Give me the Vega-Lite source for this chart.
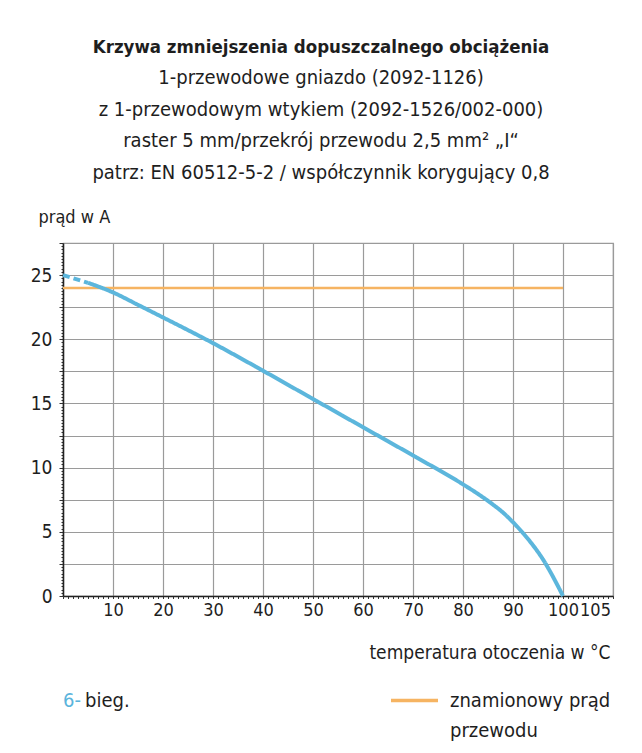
{
  "$schema": "https://vega.github.io/schema/vega-lite/v6.json",
  "width": 550,
  "height": 353,
  "autosize": {"type": "none"},
  "padding": {"left": 63, "top": 243, "right": 29, "bottom": 157},
  "background": "white",
  "config": {
    "font": "DejaVu Sans Condensed, Liberation Sans Narrow, Roboto, sans-serif",
    "view": {"stroke": "#9a9a9a", "strokeWidth": 1.2}
  },
  "title": {
    "text": "Krzywa zmniejszenia dopuszczalnego obciążenia",
    "subtitle": [
      "1-przewodowe gniazdo (2092-1126)",
      "z 1-przewodowym wtykiem (2092-1526/002-000)",
      "raster 5 mm/przekrój przewodu 2,5 mm² „I“",
      "patrz: EN 60512-5-2 / współczynnik korygujący 0,8"
    ],
    "anchor": "middle",
    "frame": "group",
    "dx": -17,
    "fontSize": 18.5,
    "fontWeight": "bold",
    "color": "#1e1e1e",
    "subtitleFontSize": 20,
    "subtitleColor": "#1e1e1e",
    "subtitleLineHeight": 31.7,
    "subtitlePadding": 11,
    "offset": 25
  },
  "datasets": {
    "rated": [
      {"t": 0, "i": 24, "name": "znamionowy prąd przewodu"},
      {"t": 100, "i": 24, "name": "znamionowy prąd przewodu"}
    ],
    "curve": [
      {"t": 0, "i": 25, "part": "d", "name": "6-"},
      {"t": 5, "i": 24.4, "part": "d", "name": "6-"},
      {"t": 5, "i": 24.4, "part": "s", "name": "6-"},
      {"t": 10, "i": 23.65, "part": "s", "name": "6-"},
      {"t": 15, "i": 22.68, "part": "s", "name": "6-"},
      {"t": 20, "i": 21.7, "part": "s", "name": "6-"},
      {"t": 30, "i": 19.7, "part": "s", "name": "6-"},
      {"t": 40, "i": 17.55, "part": "s", "name": "6-"},
      {"t": 50, "i": 15.35, "part": "s", "name": "6-"},
      {"t": 60, "i": 13.15, "part": "s", "name": "6-"},
      {"t": 70, "i": 10.95, "part": "s", "name": "6-"},
      {"t": 80, "i": 8.7, "part": "s", "name": "6-"},
      {"t": 83, "i": 7.95, "part": "s", "name": "6-"},
      {"t": 86, "i": 7.12, "part": "s", "name": "6-"},
      {"t": 88, "i": 6.5, "part": "s", "name": "6-"},
      {"t": 90, "i": 5.75, "part": "s", "name": "6-"},
      {"t": 92, "i": 4.9, "part": "s", "name": "6-"},
      {"t": 94, "i": 3.95, "part": "s", "name": "6-"},
      {"t": 96, "i": 2.85, "part": "s", "name": "6-"},
      {"t": 98, "i": 1.5, "part": "s", "name": "6-"},
      {"t": 100, "i": 0, "part": "s", "name": "6-"}
    ]
  },
  "encoding": {
    "x": {
      "field": "t",
      "type": "quantitative",
      "scale": {"domain": [0, 110], "nice": false, "zero": false},
      "axis": {
        "title": "temperatura otoczenia w °C",
        "titleFontSize": 19,
        "titleFontWeight": "normal",
        "titleColor": "#1e1e1e",
        "titleAlign": "right",
        "titleAnchor": null,
        "titleBaseline": "alphabetic",
        "titleX": 547,
        "titleY": 62,
        "values": [0,1,2,3,4,5,6,7,8,9,10,11,12,13,14,15,16,17,18,19,20,21,22,23,24,25,26,27,28,29,30,31,32,33,34,35,36,37,38,39,40,41,42,43,44,45,46,47,48,49,50,51,52,53,54,55,56,57,58,59,60,61,62,63,64,65,66,67,68,69,70,71,72,73,74,75,76,77,78,79,80,81,82,83,84,85,86,87,88,89,90,91,92,93,94,95,96,97,98,99,100,101,102,103,104,105,106,107,108,109,110],
        "labelExpr": "((datum.value % 10 === 0 && datum.value > 0 && datum.value <= 100) || datum.value === 105) ? format(datum.value, 'd') : ''",
        "labelOverlap": false,
        "labelFlush": false,
        "labelBound": false,
        "labelFontSize": 18,
        "labelColor": "#1e1e1e",
        "labelPadding": 3,
        "labelOffset": {"condition": {"test": "datum.value === 105", "value": 7}, "value": 0},
        "grid": true,
        "gridColor": "#9a9a9a",
        "gridWidth": 1.2,
        "gridOpacity": {"condition": {"test": "datum.value % 10 === 0", "value": 1}, "value": 0},
        "domainColor": "#222222",
        "domainWidth": 1.5,
        "tickColor": "#333333",
        "tickWidth": 1,
        "tickSize": 2.5
      }
    },
    "y": {
      "field": "i",
      "type": "quantitative",
      "scale": {"domain": [0, 27.5], "nice": false},
      "axis": {
        "title": "prąd w A",
        "titleFontSize": 18,
        "titleFontWeight": "normal",
        "titleColor": "#1e1e1e",
        "titleAngle": 0,
        "titleAlign": "left",
        "titleAnchor": null,
        "titleBaseline": "alphabetic",
        "titleX": -25,
        "titleY": -21,
        "values": [0,0.25,0.5,0.75,1,1.25,1.5,1.75,2,2.25,2.5,2.75,3,3.25,3.5,3.75,4,4.25,4.5,4.75,5,5.25,5.5,5.75,6,6.25,6.5,6.75,7,7.25,7.5,7.75,8,8.25,8.5,8.75,9,9.25,9.5,9.75,10,10.25,10.5,10.75,11,11.25,11.5,11.75,12,12.25,12.5,12.75,13,13.25,13.5,13.75,14,14.25,14.5,14.75,15,15.25,15.5,15.75,16,16.25,16.5,16.75,17,17.25,17.5,17.75,18,18.25,18.5,18.75,19,19.25,19.5,19.75,20,20.25,20.5,20.75,21,21.25,21.5,21.75,22,22.25,22.5,22.75,23,23.25,23.5,23.75,24,24.25,24.5,24.75,25,25.25,25.5,25.75,26,26.25,26.5,26.75,27,27.25,27.5],
        "labelExpr": "datum.value % 5 === 0 ? format(datum.value, 'd') : ''",
        "labelOverlap": false,
        "labelBound": false,
        "labelFlush": false,
        "labelFontSize": 19,
        "labelColor": "#1e1e1e",
        "labelPadding": 7,
        "grid": true,
        "gridColor": "#9a9a9a",
        "gridWidth": 1.2,
        "gridOpacity": {"condition": {"test": "datum.value % 2.5 === 0", "value": 1}, "value": 0},
        "domainColor": "#222222",
        "domainWidth": 1.5,
        "tickColor": "#333333",
        "tickWidth": 1,
        "tickSize": {"condition": {"test": "datum.value % 2.5 === 0", "value": 4}, "value": 2}
      }
    }
  },
  "layer": [
    {
      "data": {"name": "rated"},
      "mark": {"type": "line", "strokeWidth": 2.5},
      "encoding": {
        "color": {
          "field": "name",
          "type": "nominal",
          "scale": {"domain": ["znamionowy prąd przewodu"], "range": ["#f6b462"]},
          "legend": {
            "orient": "none",
            "legendX": 326,
            "legendY": 432,
            "title": null,
            "symbolType": "stroke",
            "symbolSize": 2209,
            "symbolStrokeWidth": 3.5,
            "symbolStrokeColor": "#ef8f36",
            "labelFontSize": 20,
            "labelColor": "#1e1e1e",
            "labelLimit": 400,
            "labelOffset": 10,
            "labelExpr": "['znamionowy prąd', 'przewodu']",
            "labelBaseline": "alphabetic",
            "encode": {"labels": {"update": {"dy": {"value": 6}, "lineHeight": {"value": 30}}}}
          }
        }
      }
    },
    {
      "data": {"name": "curve"},
      "mark": {"type": "line", "strokeWidth": 4, "interpolate": "monotone"},
      "encoding": {
        "stroke": {
          "field": "name",
          "type": "nominal",
          "scale": {"domain": ["6-"], "range": ["#5cb6dc"]},
          "legend": {
            "orient": "none",
            "legendX": -20,
            "legendY": 448,
            "title": "bieg.",
            "titleOrient": "right",
            "titleFontSize": 20,
            "titleFontWeight": "normal",
            "titleColor": "#1e1e1e",
            "titlePadding": 4,
            "symbolSize": 0,
            "symbolStrokeWidth": 0,
            "symbolType": "stroke",
            "labelOffset": 0,
            "labelFontSize": 20,
            "labelColor": "#5ab4dc"
          }
        },
        "strokeDash": {
          "field": "part",
          "type": "nominal",
          "scale": {"domain": ["d", "s"], "range": [[7, 4], [1, 0]]},
          "legend": null
        }
      }
    }
  ]
}
